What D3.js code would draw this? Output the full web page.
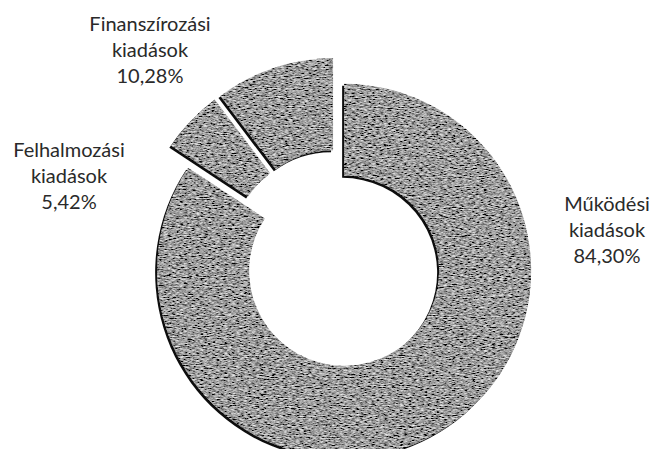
<!DOCTYPE html>
<html>
<head>
<meta charset="utf-8">
<script src="https://cdn.jsdelivr.net/npm/d3@7"></script>
<style>
  html, body { margin: 0; padding: 0; background: #fff; }
  svg { display: block; }
  text { font-family: Lato, "Open Sans", sans-serif; fill: #2a2a2a; }
</style>
</head>
<body>
<svg id="chart" width="658" height="449"></svg>
<script>
// ---- data ----
const categories = ["Működési kiadások", "Felhalmozási kiadások", "Finanszírozási kiadások"];
const values = [84.30, 5.42, 10.28];
const valueLabels = ["84,30%", "5,42%", "10,28%"];
const nameLines = [["Működési", "kiadások"], ["Felhalmozási", "kiadások"], ["Finanszírozási", "kiadások"]];

// ---- layout ----
const W = 658, H = 449;
const cx = 337.5, cy = 258.5;
const outerR = 187, innerR = 95, explode = 14;
const labelAnchors = [[607, 211], [69, 157], [150, 31]];
const lineH = 26;
const fontSize = 20;

const svg = d3.select("#chart");
const defs = svg.append("defs");
const f = defs.append("filter").attr("id", "tex")
  .attr("x", "-5%").attr("y", "-5%").attr("width", "110%").attr("height", "110%");
f.append("feTurbulence").attr("type", "fractalNoise").attr("baseFrequency", "0.25 0.9")
  .attr("numOctaves", 3).attr("seed", 7).attr("result", "n");
f.append("feColorMatrix").attr("in", "n").attr("type", "matrix")
  .attr("values", "1.5 0 0 0 -0.42  1.5 0 0 0 -0.42  1.5 0 0 0 -0.42  0 0 0 0 1").attr("result", "g");
f.append("feComposite").attr("in", "g").attr("in2", "SourceAlpha").attr("operator", "in").attr("result", "tx");
f.append("feOffset").attr("in", "SourceAlpha").attr("dx", -2).attr("dy", 2).attr("result", "off");
f.append("feFlood").attr("flood-color", "#111").attr("result", "fl");
f.append("feComposite").attr("in", "fl").attr("in2", "off").attr("operator", "in").attr("result", "sh");
const m = f.append("feMerge");
m.append("feMergeNode").attr("in", "sh");
m.append("feMergeNode").attr("in", "tx");

const pie = d3.pie().sort(null).value(d => d);
const arcs = pie(values);
const arc = d3.arc().innerRadius(innerR).outerRadius(outerR);

const g = svg.append("g").attr("transform", `translate(${cx},${cy})`);
g.selectAll("path.slice").data(arcs).enter().append("path")
  .attr("class", "slice")
  .attr("d", arc)
  .attr("fill", "#666")
  .attr("filter", "url(#tex)")
  .attr("transform", d => {
    const a = (d.startAngle + d.endAngle) / 2;
    return `translate(${Math.sin(a) * explode},${-Math.cos(a) * explode})`;
  });

// ---- labels ----
const lbl = svg.append("g");
arcs.forEach((d, i) => {
  const [x, y] = labelAnchors[i];
  const t = lbl.append("text").attr("text-anchor", "middle").attr("font-size", fontSize);
  const lines = nameLines[i].concat([valueLabels[i]]);
  lines.forEach((s, k) => {
    t.append("tspan").attr("x", x).attr("y", y + k * lineH).text(s);
  });
});
</script>
</body>
</html>
